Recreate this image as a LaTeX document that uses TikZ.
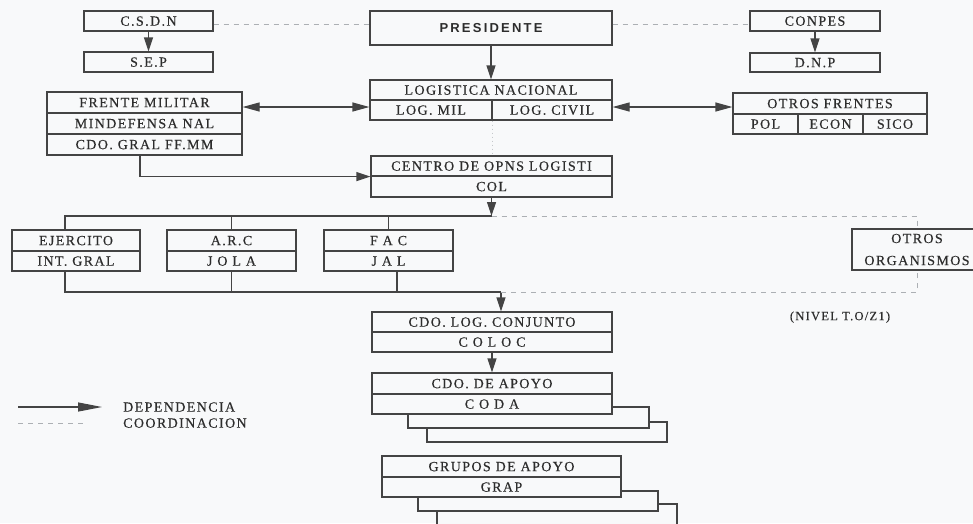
\documentclass[tikz,border=0pt]{standalone}
\usepackage{fontspec}
\setmainfont{Liberation Serif}[LetterSpace=10, FakeBold=0.35]
\newfontfamily\presfont{Liberation Sans}[LetterSpace=17]
\newfontfamily\nivfont{Liberation Serif}[LetterSpace=10, FakeBold=0.35]
\usetikzlibrary{arrows.meta}
\definecolor{bg}{RGB}{248,249,250}
\definecolor{ln}{RGB}{68,68,68}
\definecolor{dsh}{RGB}{172,176,180}
\definecolor{txt}{RGB}{45,45,45}
\tikzset{
  cellbase/.style={draw=ln, line width=1.2pt, fill=bg, inner sep=0pt, text=txt,
    font=\fontsize{14}{16}\selectfont},
  cell/.style={cellbase, text height=9.3pt, text depth=0pt},
  stackbox/.style={draw=ln, line width=1.2pt, fill=bg},
  link/.style={draw=ln, line width=1.2pt},
  dep/.style={link, -{Triangle[length=14pt,width=9pt]}},
  both/.style={link, {Triangle[length=17pt,width=9pt]}-{Triangle[length=17pt,width=9pt]}},
  coordl/.style={draw=dsh, line width=0.8pt, dash pattern=on 5pt off 5pt},
  dotl/.style={draw=dsh!70, line width=0.8pt, dash pattern=on 1.5pt off 2.5pt},
  plain/.style={text=txt, inner sep=0pt, font=\fontsize{14}{16}\selectfont, text height=9.3pt, text depth=0pt}
}
\begin{document}
\begin{tikzpicture}[x=1pt,y=-1pt]
\fill[bg] (0,0) rectangle (973,523);
\useasboundingbox (0,0) rectangle (973,523);

% stacked boxes (behind)
\draw[stackbox] (427,422) rectangle (667,442);
\draw[stackbox] (408,407) rectangle (649,428);
\draw[stackbox] (437,504) rectangle (677,540);
\draw[stackbox] (418,491) rectangle (658,511);

% top row
\node[cell, minimum width=129pt, minimum height=20pt] (csdn) at (148.5,21) {C.S.D.N};
\node[cell, minimum width=129pt, minimum height=20pt] (sep) at (148.5,62) {S.E.P};
\node[cell, minimum width=242pt, minimum height=34pt, font=\presfont\bfseries\fontsize{13}{15}\selectfont, text height=9.3pt] (pres) at (491,28) {PRESIDENTE};
\node[cell, minimum width=130pt, minimum height=20pt] (conpes) at (815,21) {CONPES};
\node[cell, minimum width=130pt, minimum height=19pt] (dnp) at (815,62.5) {D.N.P};

% logistica nacional
\node[cell, minimum width=242pt, minimum height=20pt] (lognac) at (491,90) {LOGISTICA NACIONAL};
\node[cell, minimum width=122pt, minimum height=20pt] (logmil) at (431,110) {LOG. MIL};
\node[cell, minimum width=120pt, minimum height=20pt] (logciv) at (552,110) {LOG. CIVIL};

% frente militar
\node[cell, minimum width=195pt, minimum height=21pt] (fm1) at (144.5,102.5) {FRENTE MILITAR};
\node[cell, minimum width=195pt, minimum height=21pt] (fm2) at (144.5,123.5) {MINDEFENSA NAL};
\node[cell, minimum width=195pt, minimum height=21pt] (fm3) at (144.5,144.5) {CDO. GRAL FF.MM};

% otros frentes
\node[cell, minimum width=194pt, minimum height=21pt] (of1) at (830,103.5) {OTROS FRENTES};
\node[cell, minimum width=65pt, minimum height=20pt] (pol) at (765.5,124) {POL};
\node[cell, minimum width=65pt, minimum height=20pt] (econ) at (830.5,124) {ECON};
\node[cell, minimum width=64pt, minimum height=20pt] (sico) at (895,124) {SICO};

% centro
\node[cell, minimum width=241pt, minimum height=20pt] (col1) at (491.5,166) {CENTRO DE OPNS LOGISTI};
\node[cell, minimum width=241pt, minimum height=21pt] (col2) at (491.5,186.5) {COL};

% fuerzas
\node[cell, minimum width=128pt, minimum height=21pt] (ej1) at (76,240.5) {EJERCITO};
\node[cell, minimum width=128pt, minimum height=20pt] (ej2) at (76,261) {INT. GRAL};
\node[cell, minimum width=129pt, minimum height=21pt] (arc1) at (231.5,240.5) {A.R.C};
\node[cell, minimum width=129pt, minimum height=20pt] (arc2) at (231.5,261) {J O L A};
\node[cell, minimum width=129pt, minimum height=21pt] (fac1) at (388.5,240.5) {F A C};
\node[cell, minimum width=129pt, minimum height=20pt] (fac2) at (388.5,261) {J A L};
\node[cellbase, minimum width=130pt, minimum height=41pt, align=center, font=\fontsize{14}{22}\selectfont] (oo) at (917,249.5) {OTROS\\ORGANISMOS};

% coloc / coda / grap
\node[cell, minimum width=240pt, minimum height=20pt] (cl1) at (492,322) {CDO. LOG. CONJUNTO};
\node[cell, minimum width=240pt, minimum height=20pt] (cl2) at (492,342) {C O L O C};
\node[cell, minimum width=240pt, minimum height=21pt] (ap1) at (492,383.5) {CDO. DE APOYO};
\node[cell, minimum width=240pt, minimum height=20pt] (ap2) at (492,404) {C O D A};
\node[cell, minimum width=239pt, minimum height=21pt] (gr1) at (501.5,466.5) {GRUPOS DE APOYO};
\node[cell, minimum width=239pt, minimum height=20pt] (gr2) at (501.5,487) {GRAP};

\node[plain, font=\nivfont\fontsize{12.5}{15}\selectfont, text height=8.3pt] (nivel) at (840,316) {(NIVEL T.O/Z1)};

% connectors
\coordinate (yc) at (0,24);
\coordinate (ya) at (0,107);
\draw[dep] (csdn.south) -- (sep.north);
\draw[dep] (conpes.south) -- (dnp.north);
\draw[dep] (pres.south) -- (lognac.north);
\draw[coordl] (csdn.east |- yc) -- (pres.west |- yc);
\draw[coordl] (pres.east |- yc) -- (conpes.west |- yc);
\draw[both] (fm1.east |- ya) -- (logmil.west |- ya);
\draw[both] (logciv.east |- ya) -- (of1.west |- ya);
\draw[dotl] (logmil.south east) -- (logmil.south east |- col1.north);
\draw[dep] ([xshift=-4.5pt]fm3.south) |- (col1.south west);

\coordinate (bus1) at (491.5,216);
\draw[dep] (col2.south) -- (bus1);
\draw[link] (bus1) -| ([xshift=-11pt]ej1.north);
\draw[link] (arc1.north) -- (arc1.north |- bus1);
\draw[link] (fac1.north) -- (fac1.north |- bus1);
\draw[coordl] (bus1) -| (oo.north);

\coordinate (bus2) at (501,292);
\draw[link] ([xshift=-11pt]ej2.south) |- (bus2);
\draw[link] (arc2.south) -- (arc2.south |- bus2);
\draw[link] ([xshift=8.5pt]fac2.south) -- ([xshift=8.5pt]fac2.south |- bus2);
\draw[dep] (bus2) -- (bus2 |- cl1.north);
\draw[coordl] (bus2) -| (oo.south);
\draw[dep] (cl2.south) -- (ap1.north);

% legend
\coordinate (la) at (18,407);
\coordinate (lb) at (102,407);
\coordinate (lc) at (18,423);
\coordinate (ld) at (85,423);
\draw[link, -{Triangle[length=24pt,width=9pt]}] (la) -- (lb);
\draw[coordl] (lc) -- (ld);
\node[plain, anchor=west] (ldep) at (123,407) {DEPENDENCIA};
\node[plain, anchor=west] (lcoo) at (123,423) {COORDINACION};
\end{tikzpicture}
\end{document}
